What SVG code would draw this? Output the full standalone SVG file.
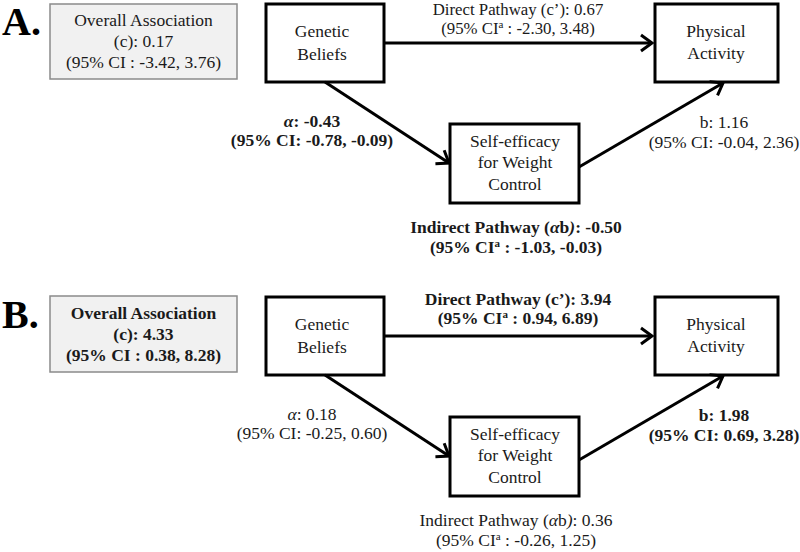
<svg xmlns="http://www.w3.org/2000/svg" width="800" height="552" viewBox="0 0 800 552">
<style>
text{font-family:"Liberation Serif","Times New Roman",serif;font-size:17.5px;fill:#1a1a1a;text-anchor:middle}
.b{font-weight:bold}
.lab{font-size:40px;font-weight:bold;text-anchor:start;fill:#000}
.node{fill:#fff;stroke:#000;stroke-width:3}
.ov{fill:#f1f1f1;stroke:#8a8a8a;stroke-width:1.5}
.edge{stroke:#000;stroke-width:3;fill:none;marker-end:url(#ah)}
.sup{font-size:11px}
.it{font-style:italic}
.top{font-size:16.8px}
</style>
<defs>
<marker id="ah" markerUnits="userSpaceOnUse" markerWidth="16" markerHeight="20" refX="13" refY="9" orient="auto" viewBox="0 0 16 18">
<path d="M2,1 L13,9 L2,17" fill="none" stroke="#000" stroke-width="3"/>
</marker>
</defs>

<g id="panelA">
<text class="lab" x="2" y="35">A.</text>
<g id="A-overall">
<rect class="ov" x="50" y="4" width="187" height="75"/>
<text x="143.5" y="26">Overall Association</text>
<text x="143.5" y="47">(c): 0.17</text>
<text x="143.5" y="68">(95% CI : -3.42, 3.76)</text>
</g>
<g id="A-genetic">
<rect class="node" x="266" y="4" width="118" height="78"/>
<text x="322" y="37">Genetic</text>
<text x="322" y="60">Beliefs</text>
</g>
<g id="A-physical">
<rect class="node" x="655" y="4" width="123" height="78"/>
<text x="716" y="37">Physical</text>
<text x="716" y="59">Activity</text>
</g>
<g id="A-selfeff">
<rect class="node" x="450" y="124" width="129" height="79"/>
<text x="515" y="147">Self-efficacy</text>
<text x="515" y="168">for Weight</text>
<text x="515" y="190">Control</text>
</g>
<g id="A-connectors">
<line class="edge" x1="384" y1="43" x2="652" y2="43"/>
<line class="edge" x1="325" y1="82" x2="449" y2="163"/>
<line class="edge" x1="579" y1="167" x2="723" y2="83"/>
</g>
<g id="A-labels">
<text class="top" x="518" y="15.2">Direct Pathway (c’): 0.67</text>
<text class="top" x="518" y="34">(95% CI<tspan class="sup" dy="-6">a</tspan><tspan dy="6"> : -2.30, 3.48)</tspan></text>
<text class="b" x="312" y="127"><tspan class="it">α</tspan>: -0.43</text>
<text class="b" x="312" y="146">(95% CI: -0.78, -0.09)</text>
<text x="724" y="128">b: 1.16</text>
<text x="724" y="148">(95% CI: -0.04, 2.36)</text>
<text class="b" x="516" y="233">Indirect Pathway (<tspan class="it">α</tspan>b<tspan class="it">)</tspan>: -0.50</text>
<text class="b" x="516" y="253">(95% CI<tspan class="sup" dy="-6">a</tspan><tspan dy="6"> : -1.03, -0.03)</tspan></text>
</g>
</g>

<g id="panelB" transform="translate(0,293)">
<text class="lab" x="2" y="35">B.</text>
<g id="B-overall">
<rect class="ov" x="50" y="3" width="187" height="76"/>
<text class="b" x="143.5" y="26">Overall Association</text>
<text class="b" x="143.5" y="47">(c): 4.33</text>
<text class="b" x="143.5" y="68">(95% CI : 0.38, 8.28)</text>
</g>
<g id="B-genetic">
<rect class="node" x="266" y="4" width="118" height="78"/>
<text x="322" y="37">Genetic</text>
<text x="322" y="60">Beliefs</text>
</g>
<g id="B-physical">
<rect class="node" x="655" y="4" width="123" height="78"/>
<text x="716" y="37">Physical</text>
<text x="716" y="59">Activity</text>
</g>
<g id="B-selfeff">
<rect class="node" x="450" y="124" width="129" height="79"/>
<text x="515" y="147">Self-efficacy</text>
<text x="515" y="168">for Weight</text>
<text x="515" y="190">Control</text>
</g>
<g id="B-connectors">
<line class="edge" x1="384" y1="43" x2="652" y2="43"/>
<line class="edge" x1="325" y1="82" x2="449" y2="163"/>
<line class="edge" x1="579" y1="167" x2="723" y2="83"/>
</g>
<g id="B-labels">
<text class="b" x="518" y="12">Direct Pathway (c’): 3.94</text>
<text class="b" x="518" y="31">(95% CI<tspan class="sup" dy="-6">a</tspan><tspan dy="6"> : 0.94, 6.89)</tspan></text>
<text x="312" y="127"><tspan class="it">α</tspan>: 0.18</text>
<text x="312" y="146">(95% CI: -0.25, 0.60)</text>
<text class="b" x="724" y="128">b: 1.98</text>
<text class="b" x="724" y="148">(95% CI: 0.69, 3.28)</text>
<text x="516" y="233">Indirect Pathway (<tspan class="it">α</tspan>b<tspan class="it">)</tspan>: 0.36</text>
<text x="516" y="253">(95% CI<tspan class="sup" dy="-6">a</tspan><tspan dy="6"> : -0.26, 1.25)</tspan></text>
</g>
</g>
</svg>
